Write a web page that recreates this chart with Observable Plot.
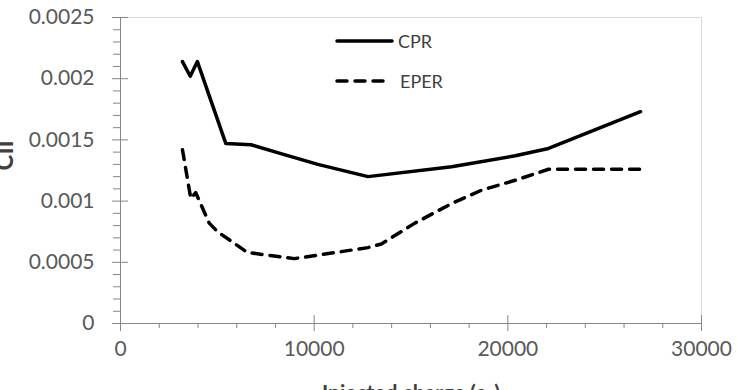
<!DOCTYPE html>
<html><head><meta charset="utf-8">
<script src="https://cdn.jsdelivr.net/npm/d3@7"></script>
<script src="https://cdn.jsdelivr.net/npm/@observablehq/plot@0.6"></script>
<style>
body{margin:0;background:#fff}
#wrap{position:relative;width:738px;height:390px;overflow:hidden;font-family:Lato,"Open Sans",sans-serif}
#legend{position:absolute;left:0;top:0}
</style>
</head><body><div id="wrap"></div>
<script>
const series = ["CPR", "EPER"];
const cprX = [3200, 3600, 3970, 5440, 6740, 8460, 10190, 12780, 17100, 20380, 22100, 26850];
const cprY = [0.00214, 0.00202, 0.00214, 0.00147, 0.00146, 0.00138, 0.00130, 0.00120, 0.00128, 0.00137, 0.00143, 0.00173];
const eperX = [3200, 3630, 3880, 4580, 5010, 6560, 8980, 12780, 13470, 15200, 17100, 18650, 20380, 22100, 26850];
const eperY = [0.00142, 0.00102, 0.00107, 0.00082, 0.00075, 0.00058, 0.00053, 0.00062, 0.00065, 0.00082, 0.00098, 0.00109, 0.00117, 0.00126, 0.00126];
const xTicks = [0, 10000, 20000, 30000];
const yTicks = [0, 0.0005, 0.001, 0.0015, 0.002, 0.0025];
const xMinor = [2000, 4000, 6000, 8000, 12000, 14000, 16000, 18000, 22000, 24000, 26000, 28000];
const yMinor = [0.0001,0.0002,0.0003,0.0004,0.0006,0.0007,0.0008,0.0009,0.0011,0.0012,0.0013,0.0014,0.0016,0.0017,0.0018,0.0019,0.0021,0.0022,0.0023,0.0024];
const xTitle = "Injected charge (e-)";
const yTitle = "CII";

const W = 738, H = 390, mL = 120, mR = 37, mT = 17, mB = 67;
const pw = W - mL - mR, ph = H - mT - mB;
const cpr = cprX.map((x, i) => ({x, y: cprY[i]}));
const eper = eperX.map((x, i) => ({x, y: eperY[i]}));
const axisGray = "#868686", textGray = "#595959";

const chart = Plot.plot({
  width: W, height: H,
  marginLeft: mL, marginRight: mR, marginTop: mT, marginBottom: mB,
  style: {fontFamily: "Lato, 'Open Sans', sans-serif", background: "#fff"},
  x: {domain: [0, 30000]},
  y: {domain: [0, 0.0025]},
  marks: [
    Plot.frame({stroke: "#d9d9d9"}),
    Plot.tickY(yMinor, {y: d => d, stroke: axisGray, dx: -7, insetRight: pw - 7}),
    Plot.tickY(yTicks, {y: d => d, stroke: axisGray, insetRight: pw - 8}),
    Plot.tickX(xMinor, {x: d => d, stroke: axisGray, dy: 5, insetTop: ph - 5}),
    Plot.tickX(xTicks, {x: d => d, stroke: axisGray, insetTop: ph - 8}),
    Plot.axisY(yTicks, {tickSize: 8, tickPadding: 18, stroke: axisGray, fill: textGray, fontSize: 21, tickFormat: d => String(d), label: null}),
    Plot.axisX(xTicks, {tickSize: 8, tickPadding: 10, stroke: axisGray, fill: textGray, fontSize: 21, tickFormat: d => String(d), label: null}),
    Plot.ruleX([0], {stroke: axisGray}),
    Plot.ruleY([0], {stroke: axisGray}),
    Plot.line(cpr, {x: "x", y: "y", stroke: "#000", strokeWidth: 3.5, strokeLinejoin: "round"}),
    Plot.line(eper, {x: "x", y: "y", stroke: "#000", strokeWidth: 3.5, strokeDasharray: "10,8", strokeLinecap: "round", strokeLinejoin: "round"}),
    Plot.text([xTitle], {frameAnchor: "bottom", dy: 70, fontSize: 21, fontWeight: "bold", fill: "#404040", lineAnchor: "middle"}),
    Plot.text([yTitle], {frameAnchor: "left", dx: -115, rotate: -90, fontSize: 24, fontWeight: "bold", fill: "#404040", lineAnchor: "middle"})
  ]
});
const wrap = document.getElementById("wrap");
wrap.appendChild(chart);

// legend overlay
const ns = "http://www.w3.org/2000/svg";
const lg = document.createElementNS(ns, "svg");
lg.setAttribute("id", "legend");
lg.setAttribute("width", W); lg.setAttribute("height", H);
const items = [
  {name: series[0], y: 41, x2: 392, dash: null, tx: 398},
  {name: series[1], y: 81, x2: 383, dash: "10,8", tx: 400}
];
for (const it of items) {
  const l = document.createElementNS(ns, "line");
  l.setAttribute("x1", 337); l.setAttribute("x2", it.x2);
  l.setAttribute("y1", it.y); l.setAttribute("y2", it.y);
  l.setAttribute("stroke", "#000"); l.setAttribute("stroke-width", 3.5);
  l.setAttribute("stroke-linecap", "round");
  if (it.dash) l.setAttribute("stroke-dasharray", it.dash);
  lg.appendChild(l);
  const t = document.createElementNS(ns, "text");
  t.setAttribute("x", it.tx); t.setAttribute("y", it.y + 7);
  t.setAttribute("font-size", 18); t.setAttribute("fill", "#404040");
  t.setAttribute("font-family", "Lato, 'Open Sans', sans-serif");
  t.textContent = it.name;
  lg.appendChild(t);
}
wrap.appendChild(lg);
</script>
</body></html>
